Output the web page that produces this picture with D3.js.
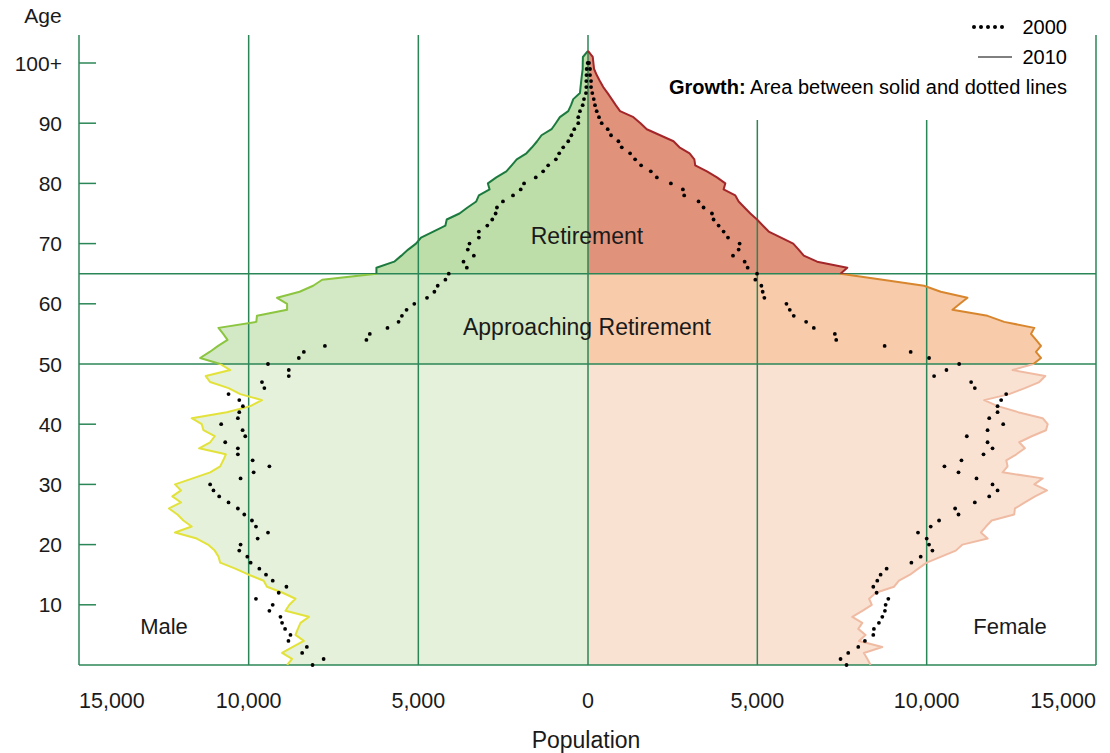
<!DOCTYPE html>
<html>
<head>
<meta charset="utf-8">
<script src="https://cdn.jsdelivr.net/npm/d3@7"></script>
<style>
  body { margin: 0; background: #fff; }
  svg { font-family: "Liberation Sans", Arial, sans-serif; }
</style>
</head>
<body>
<svg id="svg" width="1110" height="753"></svg>
<script>
// DATA //

// 2010 population by single year of age, 0..102 (solid line)
const male2010 = [8868, 8720, 9016, 8700, 8374, 8620, 8550, 8472, 8226, 8915,
  8800, 8620, 9000, 9460, 9558, 10000, 10395, 10839, 10889, 11000,
  11200, 11531, 12170, 11680, 11925, 12100, 12348, 11993, 12250, 11993,
  12170, 11650, 11135, 10839, 10750, 10673, 11460, 11135, 11000, 11333,
  11383, 11679, 10644, 9951, 9608, 10247, 10593, 11135, 11265, 10543,
  10840, 11431, 11150, 10900, 10623, 10750, 10889, 9775, 9756, 8868,
  8868, 9164, 8500, 8100, 7833, 6235, 6235, 5711, 5500, 5300,
  5069, 4921, 4560, 4202, 4163, 3788, 3550, 3293, 3216, 2900,
  2950, 2702, 2406, 2250, 2100, 1814, 1650, 1500, 1370, 1074,
  950, 829, 582, 500, 434, 237, 220, 200, 180, 157,
  155, 150, 0];

const female2010 = [8344, 8250, 8146, 8690, 8000, 8196, 7980, 8099, 7803, 8100,
  8380, 8300, 8500, 9034, 9182, 9507, 9750, 10001, 10430, 10860,
  11058, 11800, 11600, 11750, 11920, 12585, 12606, 12900, 13200, 13552,
  13178, 13425, 12241, 12389, 12350, 12650, 12900, 12733, 13100, 13523,
  13573, 13425, 12700, 12100, 11697, 12437, 12900, 13325, 13503, 12536,
  13150, 13375, 13227, 13375, 13230, 13079, 13178, 12290, 11797, 10762,
  10980, 11205, 10416, 9922, 8700, 7457, 7656, 6766, 6372, 6220,
  6060, 5700, 5336, 5160, 4991, 4794, 4620, 4449, 4350, 4004,
  4054, 3808, 3512, 3166, 3140, 3000, 2700, 2525, 2130, 1736,
  1550, 1342, 947, 820, 700, 580, 450, 350, 257, 180,
  160, 140, 0];

// 2000 population by single year of age, 0..100 (dotted line)
const male2000 = [8117, 7791, 8424, 8285, 8828, 8768, 8927, 9016, 9064, 9389,
  9291, 9785, 9114, 8887, 9291, 9489, 9685, 9942, 10040, 10277,
  10238, 9735, 9430, 9785, 9904, 10129, 10318, 10593, 10869, 11037,
  11135, 10238, 9853, 9389, 9883, 10318, 10318, 10691, 10100, 10179,
  10810, 10318, 10277, 10170, 10277, 10593, 9537, 9608, 8818, 8818,
  9431, 8522, 8374, 7753, 6530, 6430, 5909, 5583, 5484, 5347,
  5119, 4744, 4527, 4429, 4202, 4104, 3571, 3669, 3364, 3542,
  3492, 3216, 3216, 2968, 2821, 2722, 2684, 2506, 2210, 1983,
  1884, 1539, 1322, 1174, 947, 849, 730, 582, 490, 405,
  287, 287, 237, 157, 118, 60, 50, 50, 45, 40,
  10];

const female2000 = [7634, 7457, 7684, 7980, 8176, 8424, 8442, 8590, 8690, 8767,
  8788, 8868, 8522, 8424, 8542, 8640, 8818, 9549, 9824, 10170,
  10069, 10001, 9744, 10120, 10366, 10940, 10840, 11422, 11847, 12093,
  11945, 11472, 10940, 10525, 11028, 11679, 11945, 11798, 11185, 11798,
  12260, 11847, 12093, 12093, 12200, 12348, 11422, 11313, 10219, 10584,
  10959, 10071, 9528, 8759, 7329, 7289, 6668, 6441, 6076, 5958,
  5859, 5208, 5158, 5119, 4941, 4991, 4714, 4625, 4281, 4448,
  4477, 4133, 4004, 3856, 3708, 3660, 3412, 3264, 2841, 2802,
  2447, 2033, 1855, 1568, 1391, 1243, 997, 898, 680, 582,
  405, 325, 257, 207, 170, 127, 90, 90, 60, 60,
  30];

// Age bands (lower bound inclusive) and labels
const bandNames = ["Young", "Approaching Retirement", "Retirement"];
const bandLimits = [[0, 50], [50, 65], [65, 103]];

// Axis ticks
const ageTicks = [10, 20, 30, 40, 50, 60, 70, 80, 90, 100];
const popTicks = [5000, 10000, 15000];

// MAIN //

const svg = d3.select("#svg");

const plotLeft = 79, plotRight = 1096, plotTop = 35, plotBottom = 665;

const y = d3.scaleLinear().domain([0, 100]).range([plotBottom, 63]);
const xM = d3.scaleLinear().domain([0, 15000]).range([588, plotLeft]);
const xF = d3.scaleLinear().domain([0, 15000]).range([588, plotRight]);

const grid = "#2b8657";

// Colours per band: [male fill, male stroke, female fill, female stroke]
const colors = [
  ["#e5f1db", "#e3e23a", "#fae2d3", "#f0bba3"],
  ["#d3e8c4", "#8cc540", "#f8cbab", "#d8862e"],
  ["#bddea8", "#1c7a3f", "#e0927a", "#a3262a"]
];

// Clip rectangles for each band
const defs = svg.append("defs");
bandLimits.forEach((b, i) => {
  let y0 = i === 2 ? 0 : y(b[1]);
  let y1 = i === 0 ? plotBottom : y(b[0]);
  defs.append("clipPath")
    .attr("id", "band" + i)
    .append("rect")
    .attr("x", plotLeft)
    .attr("y", y0)
    .attr("width", plotRight - plotLeft)
    .attr("height", y1 - y0);
});

const m10 = male2010.map((v, a) => ({age: a, v: v}));
const f10 = female2010.map((v, a) => ({age: a, v: v}));

let areaM = d3.area().y(d => y(d.age)).x0(xM(0)).x1(d => xM(d.v));
let areaF = d3.area().y(d => y(d.age)).x0(xF(0)).x1(d => xF(d.v));
let lineM = d3.line().y(d => y(d.age)).x(d => xM(d.v));
let lineF = d3.line().y(d => y(d.age)).x(d => xF(d.v));

// Fills
bandLimits.forEach((b, i) => {
  let g = svg.append("g").attr("clip-path", "url(#band" + i + ")");
  g.append("path").attr("d", areaM(m10)).attr("fill", colors[i][0]);
  g.append("path").attr("d", areaF(f10)).attr("fill", colors[i][2]);
});

// Grid lines
const gridG = svg.append("g").attr("stroke", grid).attr("stroke-width", 1.5);

popTicks.slice(0, 2).forEach(t => {
  gridG.append("line").attr("x1", xM(t)).attr("x2", xM(t)).attr("y1", plotTop).attr("y2", plotBottom);
  gridG.append("line").attr("x1", xF(t)).attr("x2", xF(t)).attr("y1", 120).attr("y2", plotBottom);
});
gridG.append("line").attr("x1", xM(0)).attr("x2", xM(0)).attr("y1", plotTop).attr("y2", plotBottom);
gridG.append("line").attr("x1", plotLeft).attr("x2", plotLeft).attr("y1", plotTop).attr("y2", plotBottom);
gridG.append("line").attr("x1", plotRight).attr("x2", plotRight).attr("y1", plotTop).attr("y2", plotBottom);
gridG.append("line").attr("x1", plotLeft).attr("x2", plotRight).attr("y1", plotBottom).attr("y2", plotBottom);
[50, 65].forEach(a => {
  gridG.append("line").attr("x1", plotLeft).attr("x2", plotRight).attr("y1", y(a)).attr("y2", y(a));
});
ageTicks.filter(a => a !== 50).forEach(a => {
  gridG.append("line").attr("x1", plotLeft).attr("x2", plotLeft + 17).attr("y1", y(a)).attr("y2", y(a));
});

// Outlines
bandLimits.forEach((b, i) => {
  let g = svg.append("g").attr("clip-path", "url(#band" + i + ")")
    .attr("fill", "none").attr("stroke-width", 2).attr("stroke-linejoin", "round");
  g.append("path").attr("d", lineM(m10)).attr("stroke", colors[i][1]);
  g.append("path").attr("d", lineF(f10)).attr("stroke", colors[i][3]);
});

// 2000 dots
const dots = svg.append("g").attr("fill", "#000");
dots.selectAll(".dm")
  .data(male2000)
  .enter()
  .append("circle")
  .attr("cx", d => xM(d))
  .attr("cy", (d, i) => y(i))
  .attr("r", 1.9);
dots.selectAll(".df")
  .data(female2000)
  .enter()
  .append("circle")
  .attr("cx", d => xF(d))
  .attr("cy", (d, i) => y(i))
  .attr("r", 1.9);

// Y axis labels
const txt = svg.append("g").attr("fill", "#1a1a1a");
ageTicks.forEach(a => {
  txt.append("text")
    .attr("x", 62)
    .attr("y", y(a))
    .attr("dy", "0.36em")
    .attr("text-anchor", "end")
    .style("font-size", "21px")
    .text(a === 100 ? "100+" : a);
});
txt.append("text").attr("x", 43).attr("y", 23).attr("text-anchor", "middle")
  .style("font-size", "21px").text("Age");

// X axis labels
const fmt = d3.format(",");
const xLabels = [[xM(15000), 15000, "start"], [xM(10000), 10000, "middle"], [xM(5000), 5000, "middle"],
  [xM(0), 0, "middle"], [xF(5000), 5000, "middle"], [xF(10000), 10000, "middle"], [xF(15000), 15000, "end"]];
xLabels.forEach(l => {
  txt.append("text")
    .attr("x", l[0])
    .attr("y", 708)
    .attr("text-anchor", l[2])
    .style("font-size", "21.5px")
    .text(fmt(l[1]));
});
txt.append("text").attr("x", 586).attr("y", 748).attr("text-anchor", "middle")
  .style("font-size", "23px").text("Population");

// Band labels
txt.append("text").attr("x", 587).attr("y", 244).attr("text-anchor", "middle")
  .style("font-size", "23px").text(bandNames[2]);
txt.append("text").attr("x", 587).attr("y", 335).attr("text-anchor", "middle")
  .style("font-size", "23px").text(bandNames[1]);
txt.append("text").attr("x", 164).attr("y", 634).attr("text-anchor", "middle")
  .style("font-size", "22px").text("Male");
txt.append("text").attr("x", 1010).attr("y", 634).attr("text-anchor", "middle")
  .style("font-size", "22px").text("Female");

// Legend
const legend = svg.append("g");
d3.range(5).forEach(i => {
  legend.append("circle").attr("cx", 974 + i * 7).attr("cy", 27).attr("r", 2).attr("fill", "#000");
});
legend.append("line").attr("x1", 978).attr("x2", 1012).attr("y1", 57).attr("y2", 57)
  .attr("stroke", "#000").attr("stroke-width", 1);
legend.append("text").attr("x", 1067).attr("y", 34).attr("text-anchor", "end")
  .style("font-size", "20px").text("2000");
legend.append("text").attr("x", 1067).attr("y", 64).attr("text-anchor", "end")
  .style("font-size", "20px").text("2010");
let growth = legend.append("text").attr("x", 1067).attr("y", 94).attr("text-anchor", "end")
  .style("font-size", "20px");
growth.append("tspan").style("font-weight", "bold").text("Growth:");
growth.append("tspan").text(" Area between solid and dotted lines");
</script>
</body>
</html>
